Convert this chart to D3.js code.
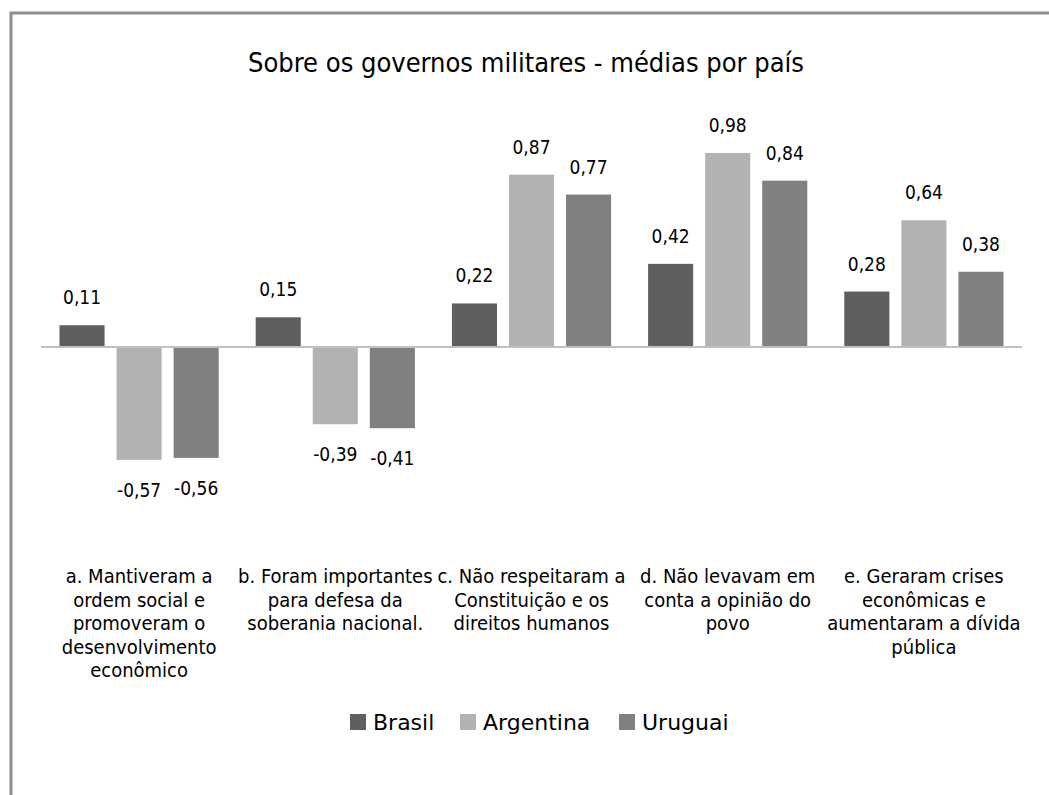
<!DOCTYPE html>
<html>
<head>
  <meta charset="utf-8">
  <title>Sobre os governos militares</title>
  <style>
    body { margin: 0; background: white; }
    .label { font-family: "DejaVu Sans Condensed", "DejaVu Sans", sans-serif; font-size: 19px; fill: #000; text-anchor: middle; }
    .cat { font-family: "Liberation Sans Narrow", "DejaVu Sans Condensed", sans-serif; font-size: 20px; fill: #000; text-anchor: middle; }
    .title { font-family: "Liberation Sans Narrow", "DejaVu Sans Condensed", sans-serif; font-size: 27px; fill: #000; text-anchor: middle; }
    .legend text { font-family: "DejaVu Sans", sans-serif; font-size: 22px; fill: #000; }
  </style>
  <script src="https://d3js.org/d3.v7.min.js"></script>
</head>
<body>
  <div id="chart"></div>
  <script>
    // categories (manual line breaks as in the original)
    const categories = ["a", "b", "c", "d", "e"];
    const catLabels = [
      ["a. Mantiveram a", "ordem social e", "promoveram o", "desenvolvimento", "econômico"],
      ["b. Foram importantes", "para defesa da", "soberania nacional."],
      ["c. Não respeitaram a", "Constituição e os", "direitos humanos"],
      ["d. Não levavam em", "conta a opinião do", "povo"],
      ["e. Geraram crises", "econômicas e", "aumentaram a dívida", "pública"]
    ];
    const series = ["Brasil", "Argentina", "Uruguai"];
    const brasil = [0.11, 0.15, 0.22, 0.42, 0.28];
    const argentina = [-0.57, -0.39, 0.87, 0.98, 0.64];
    const uruguai = [-0.56, -0.41, 0.77, 0.84, 0.38];
    const colors = ["#5f5f5f", "#b2b2b2", "#808080"];

    const W = 1049, H = 795;
    const values = [brasil, argentina, uruguai];

    // comma decimals, plain hyphen for negatives
    const fmt = v => d3.format(".2f")(v).replace("−", "-").replace(".", ",");

    const svg = d3.select("#chart").append("svg")
      .attr("width", W)
      .attr("height", H);

    // chart border
    svg.append("rect")
      .attr("x", 11).attr("y", 13)
      .attr("width", W + 20).attr("height", H + 20)
      .attr("fill", "white")
      .attr("stroke", "#8e8e8e")
      .attr("stroke-width", 3);

    svg.append("text")
      .attr("class", "title")
      .attr("x", 526).attr("y", 72)
      .text("Sobre os governos militares - médias por país");

    const x0 = d3.scaleBand()
      .domain(categories)
      .range([41, 1022]);

    const x1 = d3.scaleBand()
      .domain(series)
      .range([18.5, x0.bandwidth() - 18.5])
      .paddingInner(0.21);

    const y = d3.scaleLinear()
      .domain([-1, 1])
      .range([347 + 198, 347 - 198]);

    const data = [];
    categories.forEach((c, i) => {
      series.forEach((s, j) => data.push({ cat: c, s: s, v: values[j][i], color: colors[j] }));
    });

    svg.selectAll(".bar")
      .data(data)
      .enter().append("rect")
        .attr("class", "bar")
        .attr("x", d => x0(d.cat) + x1(d.s))
        .attr("width", x1.bandwidth())
        .attr("y", d => Math.min(y(d.v), y(0)))
        .attr("height", d => Math.abs(y(d.v) - y(0)))
        .attr("fill", d => d.color);

    // zero line
    svg.append("line")
      .attr("x1", x0.range()[0]).attr("x2", x0.range()[1])
      .attr("y1", y(0)).attr("y2", y(0))
      .attr("stroke", "#c0c0c0")
      .attr("stroke-width", 2);

    // value labels
    svg.selectAll(".label")
      .data(data)
      .enter().append("text")
        .attr("class", "label")
        .attr("x", d => x0(d.cat) + x1(d.s) + x1.bandwidth() / 2)
        .attr("y", d => d.v >= 0 ? y(d.v) - 21 : y(d.v) + 37)
        .text(d => fmt(d.v));

    // category labels
    categories.forEach((c, i) => {
      const t = svg.append("text")
        .attr("class", "cat")
        .attr("x", x0(c) + x0.bandwidth() / 2)
        .attr("y", 583);
      catLabels[i].forEach((line, k) => {
        t.append("tspan")
          .attr("x", x0(c) + x0.bandwidth() / 2)
          .attr("dy", k === 0 ? 0 : 23.5)
          .text(line);
      });
    });

    // legend
    const legendX = [350, 460, 619];
    const legend = svg.selectAll(".legend")
      .data(series)
      .enter().append("g")
        .attr("class", "legend")
        .attr("transform", (d, i) => `translate(${legendX[i]},714)`);

    legend.append("rect")
      .attr("width", 16).attr("height", 16)
      .attr("fill", (d, i) => colors[i]);

    legend.append("text")
      .attr("x", 23).attr("y", 16)
      .text(d => d);
  </script>
</body>
</html>
